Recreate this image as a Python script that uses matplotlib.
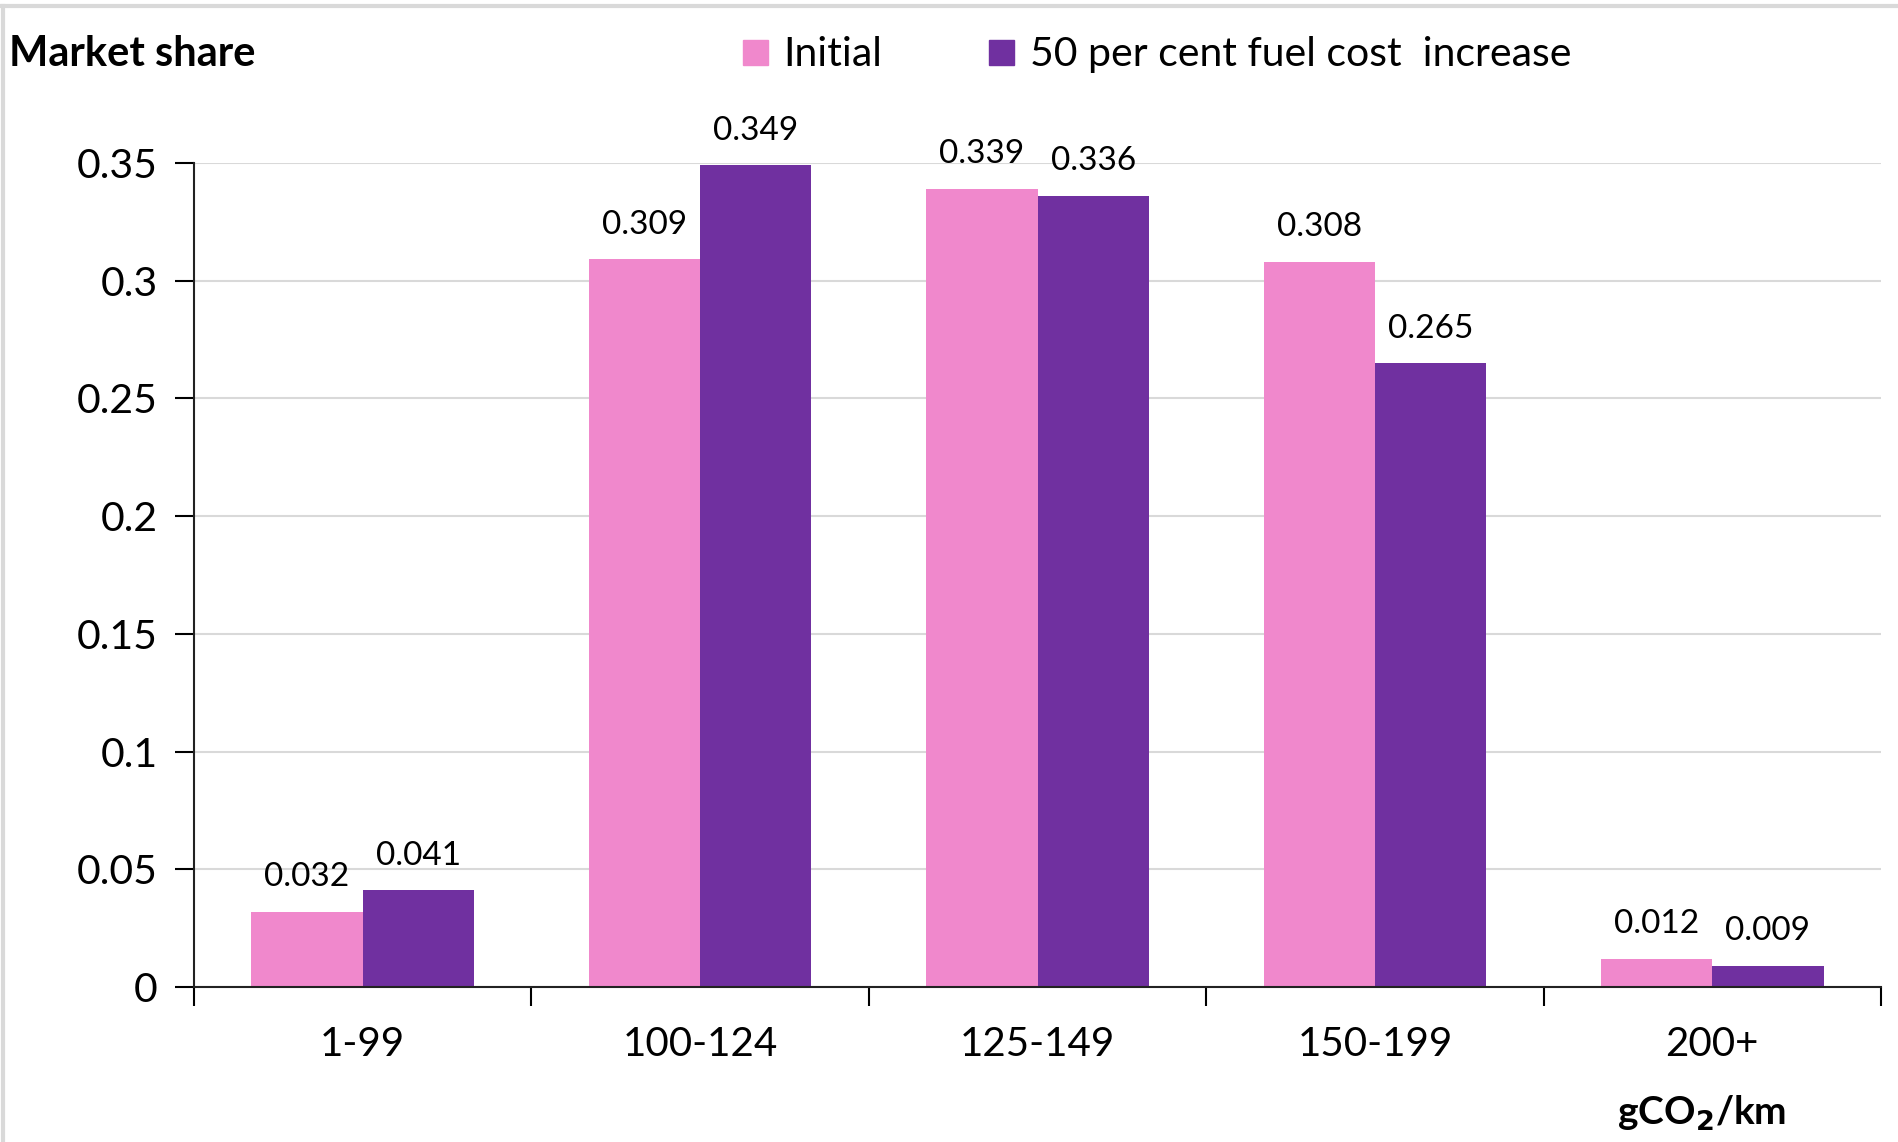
import numpy as np
import matplotlib.pyplot as plt
from matplotlib.lines import Line2D

# donnees
categories = ['1-99', '100-124', '125-149', '150-199', '200+']
initial = [0.032, 0.309, 0.339, 0.308, 0.012]
fuel_up = [0.041, 0.349, 0.336, 0.265, 0.009]
yticks = [0, 0.05, 0.1, 0.15, 0.2, 0.25, 0.3, 0.35]
ytick_labels = ['0', '0.05', '0.1', '0.15', '0.2', '0.25', '0.3', '0.35']
series_names = ['Initial', '50 per cent fuel cost  increase']

pink = '#F088CC'
purple = '#7030A0'

plt.rcParams['font.family'] = ['Lato', 'DejaVu Sans']

fig = plt.figure(figsize=(18.99, 11.42), dpi=100)
ax = fig.add_axes([0.1022, 0.1357, 0.8883, 0.7216])

x = np.arange(len(categories))
w = 0.33
b1 = ax.bar(x - w/2, initial, w, color=pink, label=series_names[0])
b2 = ax.bar(x + w/2, fuel_up, w, color=purple, label=series_names[1])
ax.bar_label(b1, labels=[f'{v:.3f}' for v in initial], padding=14, fontsize=24)
ax.bar_label(b2, labels=[f'{v:.3f}' for v in fuel_up], padding=14, fontsize=24)

ax.set_xlim(-0.5, len(categories) - 0.5)
ax.set_ylim(0, 0.35)
ax.set_yticks(yticks)
ax.set_yticklabels(ytick_labels)
ax.set_xticks(x)
ax.set_xticklabels(categories)
ax.set_xticks(np.arange(len(categories) + 1) - 0.5, minor=True)

ax.tick_params(axis='y', length=14, width=1.5, labelsize=29.5, pad=12)
ax.tick_params(axis='x', which='major', length=0, labelsize=29, pad=28)
ax.tick_params(axis='x', which='minor', length=14, width=1.5)

ax.yaxis.grid(True, color='#D9D9D9', linewidth=1.5)
ax.set_axisbelow(True)
for s in ['top', 'right']:
    ax.spines[s].set_visible(False)
ax.spines['left'].set_linewidth(1.5)
ax.spines['bottom'].set_linewidth(1.5)
ax.spines['left'].set_color('#222222')
ax.spines['bottom'].set_color('#222222')

fig.text(0.005, 0.953, 'Market share', fontsize=30, fontweight='bold', ha='left', va='center')
fig.text(0.896, 0.025, r'gCO$_\mathbf{2}$/km', fontsize=28, fontweight='bold', ha='center', va='center')

handles = [Line2D([], [], marker='s', linestyle='', markersize=18, color=c) for c in (pink, purple)]
fig.legend(handles, series_names, loc='center', bbox_to_anchor=(0.608, 0.952), ncol=2,
           frameon=False, fontsize=29.5, handletextpad=0.3, columnspacing=2.5, handlelength=0.8)

# cadre gris clair en haut et a gauche
fig.add_artist(Line2D([0, 1], [0.995, 0.995], color='#D9D9D9', linewidth=3, transform=fig.transFigure))
fig.add_artist(Line2D([0.0015, 0.0015], [0, 0.995], color='#D9D9D9', linewidth=3, transform=fig.transFigure))

fig.savefig('out.png', dpi=100)
